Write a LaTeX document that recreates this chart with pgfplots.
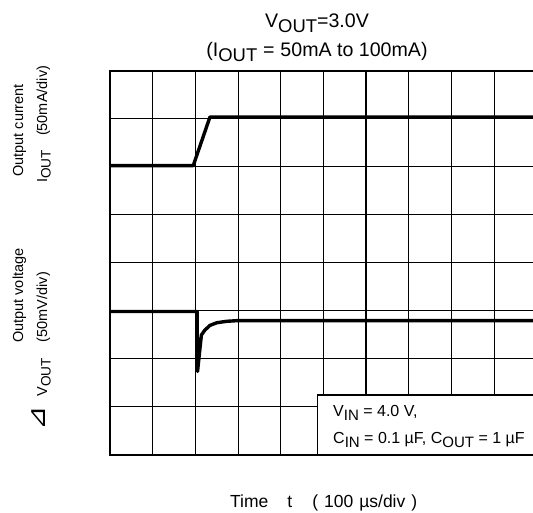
\documentclass[border=0pt]{standalone}
\usepackage{pgfplots}
\pgfplotsset{compat=1.18}
\usepackage{fontspec}
\setmainfont{Liberation Sans}
\newfontfamily\dejavu{DejaVu Sans}
\newcommand\sub[1]{\raisebox{-0.25em}{\scalebox{0.94}{#1}}}
\begin{document}
\begin{tikzpicture}[x=1bp,y=1bp]
\begin{axis}[
  at={(110bp,58bp)}, anchor=south west,
  scale only axis, width=427bp, height=384bp,
  xmin=0, xmax=10, ymin=0, ymax=8,
  xtick={0,...,10}, ytick={0,...,8},
  xticklabels={}, yticklabels={},
  major tick length=0pt,
  grid=major,
  major grid style={black, line width=1bp},
  axis line style={black, line width=2bp},
  clip=false,
]
\draw[black, line width=1.8bp] (axis cs:6,0) -- (axis cs:6,8);
\addplot[black, line width=3.4bp, line join=round] coordinates {
  (0,6.03) (1.95,6.03) (2.34,7.04) (10,7.04)
};
\addplot[black, line width=3.4bp, line join=round] coordinates {
  (0,2.99) (2.04,2.99) (2.05,1.74) (2.14,2.5) (2.22,2.6) (2.34,2.70)
  (2.5,2.755) (2.73,2.785) (3.0,2.80) (3.5,2.80) (10,2.80)
};
\draw[black, line width=1.6bp, fill=white] (axis cs:4.86,0) rectangle (axis cs:10.2,1.25);
\end{axis}
\begin{scope}[every node/.style={font=\fontsize{19.6bp}{22bp}\selectfont}]
\node[anchor=base] at (317,485) {V\sub{OUT}=3.0V};
\node[anchor=base] at (317,456) {(I\sub{OUT}\hspace{0.3em}=\hspace{0.3em}50mA to 100mA)};
\end{scope}
\begin{scope}[every node/.style={font=\fontsize{14.5bp}{17bp}\selectfont, rotate=90, anchor=base west, inner sep=0pt}]
\node at (23,336) {Output current};
\node at (47,330) {I\sub{OUT}\hspace{14bp}(50mA/div)};
\node at (23,170) {Output voltage};
\node at (47,86) {\hspace{-4bp}\raisebox{1.5bp}{\dejavu\scalebox{2.0}[1.7]{⊿}}\hspace{10bp}V\sub{OUT}\hspace{16bp}(50mV/div)};
\end{scope}
\node[anchor=base west, inner sep=0pt, font=\fontsize{17.5bp}{20bp}\selectfont] at (230,5)
  {Time\hspace{19bp}t\hspace{20bp}(\hspace{6bp}100\hspace{6bp}\textmu s/div\hspace{6bp})};
\begin{scope}[every node/.style={font=\fontsize{16bp}{18bp}\selectfont, anchor=base west, inner sep=0pt}]
\node at (333,96) {V\sub{IN} = 4.0 V,};
\node at (333,69) {C\sub{IN} = 0.1 \textmu F, C\sub{OUT} = 1 \textmu F};
\end{scope}
\pgfresetboundingbox
\useasboundingbox (0,0) rectangle (533,513);
\end{tikzpicture}
\end{document}
